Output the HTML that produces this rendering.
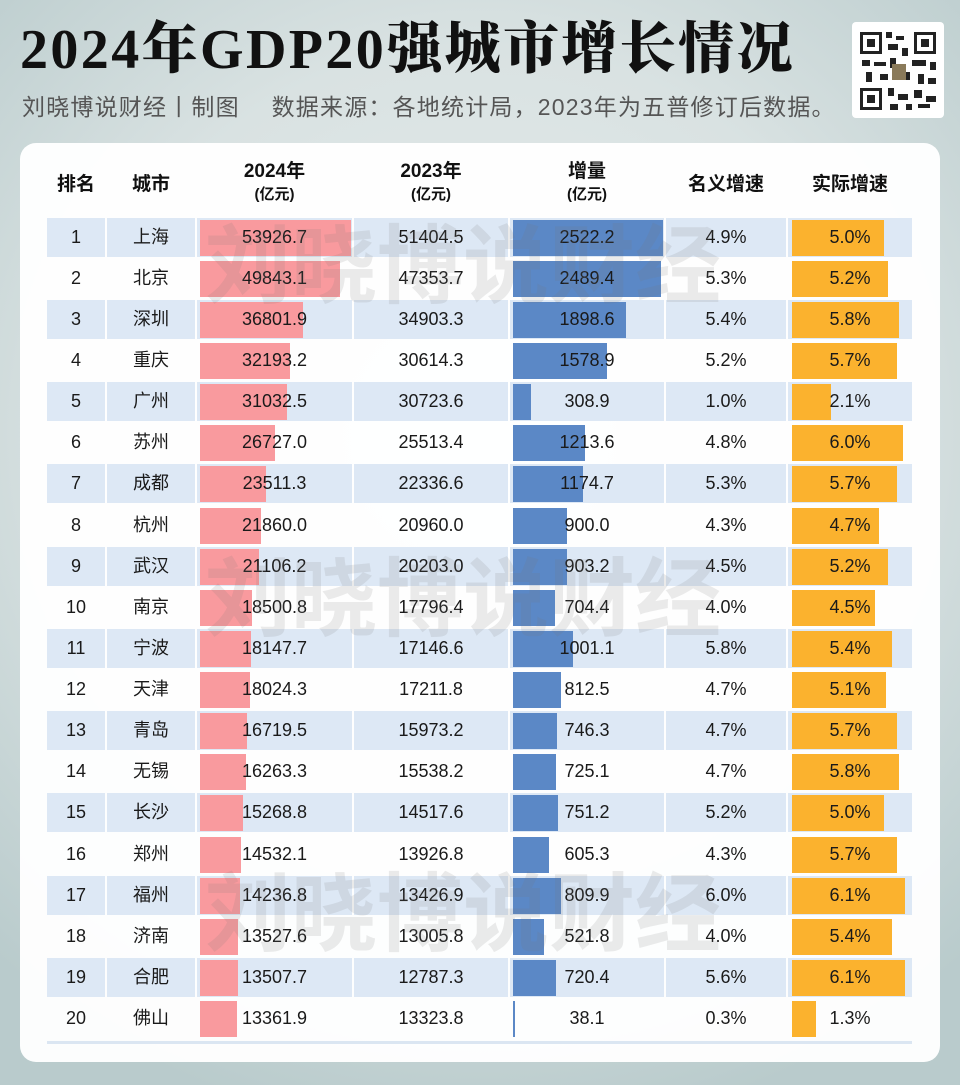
<!DOCTYPE html>
<html><head><meta charset="utf-8">
<style>
*{margin:0;padding:0;box-sizing:border-box}
body{width:960px;height:1085px;overflow:hidden;position:relative;font-family:"Liberation Sans","Noto Sans CJK SC",sans-serif;
background:radial-gradient(ellipse 75% 65% at 50% 40%,#e6ecec 0%,#d9e2e2 55%,#b9cbcc 100%);}
.title{position:absolute;left:20px;top:18px;font-family:"Liberation Serif","Noto Serif CJK SC",serif;font-weight:900;font-size:56px;line-height:64px;letter-spacing:2.4px;color:#111;white-space:nowrap}
.sub{position:absolute;left:22px;top:92px;font-size:23px;line-height:30px;letter-spacing:1.2px;color:#555;white-space:nowrap}
.qr{position:absolute;left:852px;top:22px;width:92px;height:96px;background:#fff;border-radius:4px}
.card{position:absolute;left:20px;top:143px;width:920px;height:919px;background:rgba(255,255,255,0.96);border-radius:16px}
.hd{position:absolute;top:160px;font-weight:bold;font-size:19px;color:#111;text-align:center;line-height:24px}
.hd small{display:block;font-size:15px;font-weight:bold;line-height:22px}
.row{position:absolute;left:47px;height:39px;width:865px}
.c{position:absolute;top:0;height:39px;line-height:39px;text-align:center;font-size:18px;color:#1a1a1a}
.odd .c{background:#dde8f5}
.c span{position:relative;z-index:2}
.b{position:absolute;top:2px;height:36px;z-index:1}
.p{background:#f99a9e;left:3px}
.bl{background:#5b88c6;left:3px}
.o{background:#fbb22e;left:4px}
.c1{left:0;width:58px}.c2{left:60px;width:88px}.c3{left:150px;width:155px}.c4{left:307px;width:154px}
.c5{left:463px;width:154px}.c6{left:619px;width:120px}.c7{left:741px;width:124px}
.wm{position:absolute;left:205px;font-size:86px;font-weight:bold;color:rgba(120,120,120,0.15);z-index:5;white-space:nowrap;line-height:90px}
.line{position:absolute;left:47px;top:1041px;width:865px;height:3px;background:#dbe6f2}
</style></head><body>
<div class="title">2024年GDP20强城市增长情况</div>
<div class="sub">刘晓博说财经丨制图　 数据来源：各地统计局，2023年为五普修订后数据。</div>
<div class="qr"><svg width="92" height="96" viewBox="0 0 92 96">
<g fill="#222"><rect x="8" y="10" width="22" height="22"/><rect x="62" y="10" width="22" height="22"/><rect x="8" y="66" width="22" height="22"/></g>
<g fill="#fff"><rect x="11" y="13" width="16" height="16"/><rect x="65" y="13" width="16" height="16"/><rect x="11" y="69" width="16" height="16"/></g>
<g fill="#222"><rect x="15" y="17" width="8" height="8"/><rect x="69" y="17" width="8" height="8"/><rect x="15" y="73" width="8" height="8"/>
<rect x="34" y="10" width="6" height="6"/><rect x="44" y="14" width="8" height="4"/><rect x="36" y="22" width="10" height="6"/><rect x="50" y="26" width="6" height="8"/>
<rect x="10" y="38" width="8" height="6"/><rect x="22" y="40" width="12" height="4"/><rect x="38" y="36" width="6" height="10"/><rect x="60" y="38" width="14" height="6"/><rect x="78" y="40" width="6" height="8"/>
<rect x="14" y="50" width="6" height="10"/><rect x="28" y="52" width="8" height="6"/><rect x="48" y="50" width="10" height="8"/><rect x="66" y="52" width="6" height="10"/><rect x="76" y="56" width="8" height="6"/>
<rect x="36" y="66" width="6" height="8"/><rect x="46" y="72" width="10" height="6"/><rect x="62" y="68" width="8" height="8"/><rect x="74" y="74" width="10" height="6"/>
<rect x="38" y="82" width="8" height="6"/><rect x="54" y="82" width="6" height="6"/><rect x="66" y="82" width="12" height="4"/></g>
<rect x="40" y="42" width="14" height="16" fill="#8a7a5a"/></svg></div>
<div class="card"></div>

<div class="hd" style="left:47px;width:58px;top:173px">排名</div>
<div class="hd" style="left:107px;width:88px;top:173px">城市</div>
<div class="hd" style="left:197px;width:155px">2024年<small>(亿元)</small></div>
<div class="hd" style="left:354px;width:154px">2023年<small>(亿元)</small></div>
<div class="hd" style="left:510px;width:154px">增量<small>(亿元)</small></div>
<div class="hd" style="left:666px;width:120px;top:173px">名义增速</div>
<div class="hd" style="left:788px;width:124px;top:173px">实际增速</div>

<div class="row odd" style="top:218px"><div class="c c1">1</div><div class="c c2">上海</div><div class="c c3"><div class="b p" style="width:151px"></div><span>53926.7</span></div><div class="c c4">51404.5</div><div class="c c5"><div class="b bl" style="width:150px"></div><span>2522.2</span></div><div class="c c6">4.9%</div><div class="c c7"><div class="b o" style="width:92px"></div><span>5.0%</span></div></div>
<div class="row" style="top:259px"><div class="c c1">2</div><div class="c c2">北京</div><div class="c c3"><div class="b p" style="width:140px"></div><span>49843.1</span></div><div class="c c4">47353.7</div><div class="c c5"><div class="b bl" style="width:148px"></div><span>2489.4</span></div><div class="c c6">5.3%</div><div class="c c7"><div class="b o" style="width:96px"></div><span>5.2%</span></div></div>
<div class="row odd" style="top:300px"><div class="c c1">3</div><div class="c c2">深圳</div><div class="c c3"><div class="b p" style="width:103px"></div><span>36801.9</span></div><div class="c c4">34903.3</div><div class="c c5"><div class="b bl" style="width:113px"></div><span>1898.6</span></div><div class="c c6">5.4%</div><div class="c c7"><div class="b o" style="width:107px"></div><span>5.8%</span></div></div>
<div class="row" style="top:341px"><div class="c c1">4</div><div class="c c2">重庆</div><div class="c c3"><div class="b p" style="width:90px"></div><span>32193.2</span></div><div class="c c4">30614.3</div><div class="c c5"><div class="b bl" style="width:94px"></div><span>1578.9</span></div><div class="c c6">5.2%</div><div class="c c7"><div class="b o" style="width:105px"></div><span>5.7%</span></div></div>
<div class="row odd" style="top:382px"><div class="c c1">5</div><div class="c c2">广州</div><div class="c c3"><div class="b p" style="width:87px"></div><span>31032.5</span></div><div class="c c4">30723.6</div><div class="c c5"><div class="b bl" style="width:18px"></div><span>308.9</span></div><div class="c c6">1.0%</div><div class="c c7"><div class="b o" style="width:39px"></div><span>2.1%</span></div></div>
<div class="row" style="top:423px"><div class="c c1">6</div><div class="c c2">苏州</div><div class="c c3"><div class="b p" style="width:75px"></div><span>26727.0</span></div><div class="c c4">25513.4</div><div class="c c5"><div class="b bl" style="width:72px"></div><span>1213.6</span></div><div class="c c6">4.8%</div><div class="c c7"><div class="b o" style="width:111px"></div><span>6.0%</span></div></div>
<div class="row odd" style="top:464px"><div class="c c1">7</div><div class="c c2">成都</div><div class="c c3"><div class="b p" style="width:66px"></div><span>23511.3</span></div><div class="c c4">22336.6</div><div class="c c5"><div class="b bl" style="width:70px"></div><span>1174.7</span></div><div class="c c6">5.3%</div><div class="c c7"><div class="b o" style="width:105px"></div><span>5.7%</span></div></div>
<div class="row" style="top:506px"><div class="c c1">8</div><div class="c c2">杭州</div><div class="c c3"><div class="b p" style="width:61px"></div><span>21860.0</span></div><div class="c c4">20960.0</div><div class="c c5"><div class="b bl" style="width:54px"></div><span>900.0</span></div><div class="c c6">4.3%</div><div class="c c7"><div class="b o" style="width:87px"></div><span>4.7%</span></div></div>
<div class="row odd" style="top:547px"><div class="c c1">9</div><div class="c c2">武汉</div><div class="c c3"><div class="b p" style="width:59px"></div><span>21106.2</span></div><div class="c c4">20203.0</div><div class="c c5"><div class="b bl" style="width:54px"></div><span>903.2</span></div><div class="c c6">4.5%</div><div class="c c7"><div class="b o" style="width:96px"></div><span>5.2%</span></div></div>
<div class="row" style="top:588px"><div class="c c1">10</div><div class="c c2">南京</div><div class="c c3"><div class="b p" style="width:52px"></div><span>18500.8</span></div><div class="c c4">17796.4</div><div class="c c5"><div class="b bl" style="width:42px"></div><span>704.4</span></div><div class="c c6">4.0%</div><div class="c c7"><div class="b o" style="width:83px"></div><span>4.5%</span></div></div>
<div class="row odd" style="top:629px"><div class="c c1">11</div><div class="c c2">宁波</div><div class="c c3"><div class="b p" style="width:51px"></div><span>18147.7</span></div><div class="c c4">17146.6</div><div class="c c5"><div class="b bl" style="width:60px"></div><span>1001.1</span></div><div class="c c6">5.8%</div><div class="c c7"><div class="b o" style="width:100px"></div><span>5.4%</span></div></div>
<div class="row" style="top:670px"><div class="c c1">12</div><div class="c c2">天津</div><div class="c c3"><div class="b p" style="width:50px"></div><span>18024.3</span></div><div class="c c4">17211.8</div><div class="c c5"><div class="b bl" style="width:48px"></div><span>812.5</span></div><div class="c c6">4.7%</div><div class="c c7"><div class="b o" style="width:94px"></div><span>5.1%</span></div></div>
<div class="row odd" style="top:711px"><div class="c c1">13</div><div class="c c2">青岛</div><div class="c c3"><div class="b p" style="width:47px"></div><span>16719.5</span></div><div class="c c4">15973.2</div><div class="c c5"><div class="b bl" style="width:44px"></div><span>746.3</span></div><div class="c c6">4.7%</div><div class="c c7"><div class="b o" style="width:105px"></div><span>5.7%</span></div></div>
<div class="row" style="top:752px"><div class="c c1">14</div><div class="c c2">无锡</div><div class="c c3"><div class="b p" style="width:46px"></div><span>16263.3</span></div><div class="c c4">15538.2</div><div class="c c5"><div class="b bl" style="width:43px"></div><span>725.1</span></div><div class="c c6">4.7%</div><div class="c c7"><div class="b o" style="width:107px"></div><span>5.8%</span></div></div>
<div class="row odd" style="top:793px"><div class="c c1">15</div><div class="c c2">长沙</div><div class="c c3"><div class="b p" style="width:43px"></div><span>15268.8</span></div><div class="c c4">14517.6</div><div class="c c5"><div class="b bl" style="width:45px"></div><span>751.2</span></div><div class="c c6">5.2%</div><div class="c c7"><div class="b o" style="width:92px"></div><span>5.0%</span></div></div>
<div class="row" style="top:835px"><div class="c c1">16</div><div class="c c2">郑州</div><div class="c c3"><div class="b p" style="width:41px"></div><span>14532.1</span></div><div class="c c4">13926.8</div><div class="c c5"><div class="b bl" style="width:36px"></div><span>605.3</span></div><div class="c c6">4.3%</div><div class="c c7"><div class="b o" style="width:105px"></div><span>5.7%</span></div></div>
<div class="row odd" style="top:876px"><div class="c c1">17</div><div class="c c2">福州</div><div class="c c3"><div class="b p" style="width:40px"></div><span>14236.8</span></div><div class="c c4">13426.9</div><div class="c c5"><div class="b bl" style="width:48px"></div><span>809.9</span></div><div class="c c6">6.0%</div><div class="c c7"><div class="b o" style="width:113px"></div><span>6.1%</span></div></div>
<div class="row" style="top:917px"><div class="c c1">18</div><div class="c c2">济南</div><div class="c c3"><div class="b p" style="width:38px"></div><span>13527.6</span></div><div class="c c4">13005.8</div><div class="c c5"><div class="b bl" style="width:31px"></div><span>521.8</span></div><div class="c c6">4.0%</div><div class="c c7"><div class="b o" style="width:100px"></div><span>5.4%</span></div></div>
<div class="row odd" style="top:958px"><div class="c c1">19</div><div class="c c2">合肥</div><div class="c c3"><div class="b p" style="width:38px"></div><span>13507.7</span></div><div class="c c4">12787.3</div><div class="c c5"><div class="b bl" style="width:43px"></div><span>720.4</span></div><div class="c c6">5.6%</div><div class="c c7"><div class="b o" style="width:113px"></div><span>6.1%</span></div></div>
<div class="row" style="top:999px"><div class="c c1">20</div><div class="c c2">佛山</div><div class="c c3"><div class="b p" style="width:37px"></div><span>13361.9</span></div><div class="c c4">13323.8</div><div class="c c5"><div class="b bl" style="width:2px"></div><span>38.1</span></div><div class="c c6">0.3%</div><div class="c c7"><div class="b o" style="width:24px"></div><span>1.3%</span></div></div>
<div class="line"></div>

<div class="wm" style="top:222px">刘晓博说财经</div>
<div class="wm" style="top:555px">刘晓博说财经</div>
<div class="wm" style="top:870px">刘晓博说财经</div>
</body></html>
